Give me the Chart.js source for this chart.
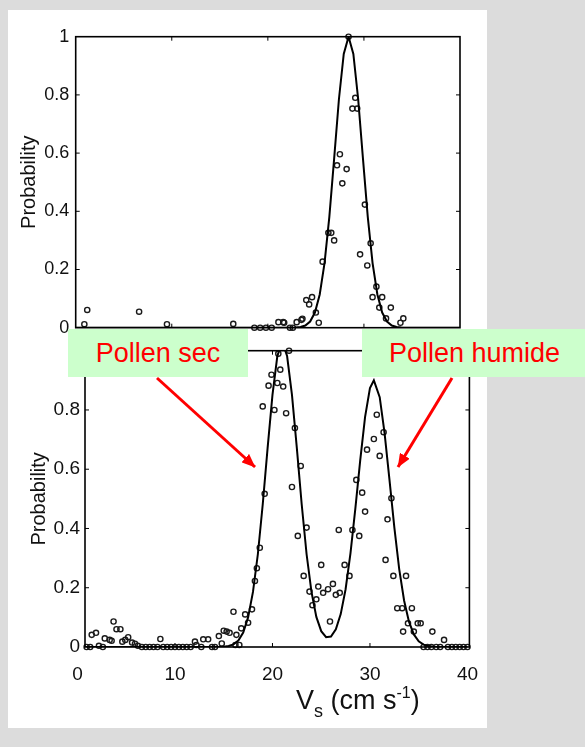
<!DOCTYPE html>
<html>
<head>
<meta charset="utf-8">
<script src="https://cdn.jsdelivr.net/npm/chart.js@4.4.1/dist/chart.umd.min.js"></script>
<style>
  body { margin: 0; background: #dcdcdc; }
  #page { position: relative; width: 585px; height: 747px; overflow: hidden; font-family: 'Liberation Sans', Arial, sans-serif; }
  #panel { position: absolute; left: 8px; top: 10px; width: 479px; height: 718px; background: #fff; }
  canvas { position: absolute; left: 0; top: 0; }
  .tag { position: absolute; background: #ccffcc; color: #ff0000; font-size: 27px; line-height: 48px; height: 48px; white-space: nowrap; }
  #xTitle { position: absolute; left: 296px; top: 685px; font-size: 27px; line-height: 30px; color: #111; white-space: nowrap; }
  #xTitle .sub { font-size: 18px; position: relative; top: 8px; }
  #xTitle .sup { font-size: 16px; position: relative; top: -11px; }
</style>
</head>
<body>
<div id="page">
  <div id="panel"></div>
  <canvas id="topChart" width="585" height="747"></canvas>
  <canvas id="bottomChart" width="585" height="747"></canvas>
  <div id="xTitle">V<span class="sub">s</span> (cm s<span class="sup">-1</span>)</div>
  <div class="tag" style="left:68px; top:329px; width:180px; text-align:center;">Pollen sec</div>
  <div class="tag" style="left:362px; top:329px; width:235px; padding-left:27px;">Pollen humide</div>
  <svg width="585" height="747" style="position:absolute;left:0;top:0">
    <defs>
      <marker id="ah" markerWidth="4.6" markerHeight="3.8" refX="4.4" refY="1.9" orient="auto" markerUnits="strokeWidth">
        <path d="M0,0 L4.6,1.9 L0,3.8 z" fill="#ff0000"/>
      </marker>
    </defs>
    <line x1="157" y1="378" x2="255" y2="467" stroke="#ff0000" stroke-width="3" marker-end="url(#ah)"/>
    <line x1="452" y1="378" x2="398" y2="467" stroke="#ff0000" stroke-width="3" marker-end="url(#ah)"/>
  </svg>
</div>
<script>
// x/y tick values shared by both panels
var xTicks = [0, 10, 20, 30, 40];
var yTicks = [0, 0.2, 0.4, 0.6, 0.8, 1];

// upper panel : measured points
var topDotX = [0.9, 1.2, 6.6, 9.5, 16.4, 18.6, 19.2, 19.8, 20.4, 21.1, 21.6, 21.7, 22.3, 22.6, 23.0, 23.5, 23.6,
  24.0, 24.3, 24.6, 25.0, 25.3, 25.7, 26.3, 26.6, 26.9, 27.2, 27.5, 27.75, 28.2, 28.4, 28.8, 29.1, 29.3,
  29.6, 30.1, 30.35, 30.7, 30.9, 31.3, 31.6, 31.9, 32.3, 32.8, 33.8, 34.1];
var topDotY = [0.012, 0.061, 0.055, 0.012, 0.013, 0.0, 0.0, 0.0, 0.0, 0.019, 0.019, 0.017, 0.0, 0.0, 0.019, 0.027, 0.031,
  0.095, 0.08, 0.105, 0.052, 0.017, 0.227, 0.326, 0.326, 0.30, 0.558, 0.596, 0.496, 0.545, 1.0, 0.753, 0.79, 0.753,
  0.252, 0.423, 0.214, 0.29, 0.105, 0.141, 0.069, 0.105, 0.032, 0.069, 0.017, 0.032];

// upper panel : fitted curve
var topCurveX = [0, 22.4, 22.9, 23.4, 23.9, 24.4, 24.9, 25.4, 25.9, 26.4, 26.9, 27.4, 27.9, 28.4,
  28.9, 29.4, 29.9, 30.4, 30.9, 31.4, 31.9, 32.4, 32.9, 33.4, 33.9, 34.4, 40];
var topCurveY = [0, 0, 0.0007, 0.0024, 0.0076, 0.021, 0.052, 0.114, 0.222, 0.381, 0.581, 0.786, 0.941, 1.0,
  0.941, 0.786, 0.581, 0.381, 0.222, 0.114, 0.052, 0.021, 0.0076, 0.0024, 0.0007, 0, 0];

// lower panel : measured points
var botDotX = [0.94, 1.3, 1.46, 1.9, 2.2, 2.6, 2.8, 3.3, 3.5, 3.7, 4.0, 4.4, 4.6, 4.9, 5.2, 5.6, 5.9, 6.2,
  6.6, 7.0, 7.4, 7.8, 8.2, 8.5, 8.8, 9.2, 9.6, 10.0, 10.4, 10.8, 11.2, 11.6,
  12.05, 12.2, 12.7, 12.9, 13.4, 13.8, 14.1, 14.5, 14.8, 15.0, 15.3, 15.6, 16.0, 16.2, 16.3, 16.6, 16.8,
  17.2, 17.5, 17.9, 18.2, 18.4, 18.7, 19.2, 19.0, 19.6, 19.9, 20.2, 20.5, 20.6, 20.8, 21.1, 21.4, 21.7,
  22.0, 22.3, 22.6, 22.9, 23.2, 23.5, 23.8, 24.1, 24.5, 24.7, 25.0, 25.2, 25.7, 25.9, 26.2, 26.5, 26.8,
  26.9, 27.4, 27.9, 28.2, 28.6, 28.9, 29.2, 29.5, 29.7, 30.4, 30.7, 31.0, 31.4, 31.6, 31.8, 32.2, 32.4,
  32.8, 33.3, 33.4, 33.7, 33.9, 34.3, 34.5, 34.9, 35.2, 36.4, 37.6,
  35.5, 35.9, 36.3, 36.8, 37.2, 38.0, 38.4, 38.8, 39.2, 39.6, 40.0];
var botDotY = [0, 0, 0.041, 0.048, 0.004, 0, 0.029, 0.024, 0.021, 0.086, 0.06, 0.06, 0.018, 0.024, 0.033, 0.015, 0.011, 0.004,
  0, 0, 0, 0, 0, 0.027, 0, 0, 0, 0, 0, 0, 0, 0,
  0.018, 0.007, 0, 0.026, 0.026, 0, 0, 0.037, 0.012, 0.055, 0.052, 0.048, 0.119, 0.007, 0.041, 0.007, 0.063,
  0.11, 0.082, 0.127, 0.223, 0.266, 0.335, 0.517, 0.812, 0.882, 0.919, 0.80, 0.891, 0.99, 0.936, 0.879, 0.789, 1.0,
  0.54, 0.739, 0.375, 0.611, 0.24, 0.403, 0.187, 0.141, 0.161, 0.204, 0.277, 0.183, 0.195, 0.086, 0.213, 0.176, 0.395,
  0.183, 0.277, 0.24, 0.395, 0.564, 0.375, 0.521, 0.457, 0.666, 0.702, 0.784, 0.645, 0.725, 0.294, 0.431, 0.502, 0.24,
  0.131, 0.131, 0.052, 0.24, 0.08, 0.131, 0.052, 0.08, 0.08, 0.052, 0.024,
  0, 0, 0, 0, 0, 0, 0, 0, 0, 0, 0];

// lower panel : fitted curve (two peaks, dry and wet pollen)
var botCurveX = [0, 14, 15, 15.5, 16, 16.5, 17, 17.5, 18, 18.5, 19, 19.5, 20, 20.5, 21, 21.5, 22, 22.5, 23, 23.5,
  24, 24.5, 25, 25.5, 26, 26.5, 27, 27.5, 28, 28.5, 29, 29.5, 30, 30.4, 31, 31.5, 32, 32.5, 33, 33.5,
  34, 34.5, 35, 35.5, 36, 36.5, 37, 40];
var botCurveY = [0, 0, 0.001, 0.0032, 0.0088, 0.0218, 0.0489, 0.0999, 0.186, 0.313, 0.481, 0.671, 0.851, 0.982, 1.03, 0.982, 0.851, 0.671, 0.481, 0.313,
  0.186, 0.1015, 0.0534, 0.0332, 0.0354, 0.060, 0.111, 0.195, 0.316, 0.467, 0.630, 0.777, 0.874, 0.9, 0.843, 0.722, 0.565, 0.404, 0.263, 0.157,
  0.0853, 0.0424, 0.0192, 0.008, 0.003, 0.001, 0, 0];

var fontFamily = "'Liberation Sans', Arial, sans-serif";
var ink = '#111';

function pairs(xs, ys){
	var out = [];
	for (var i=0; i<xs.length; i++){
		out.push({x: xs[i], y: ys[i]});
	}
	return out;
}

function yLabel(v){
	return String(Math.round(v*10)/10);
}

// box round the plot and inward tick marks, like the matlab figure
var framePlugin = {
	id: 'frame',
	afterDraw: function(chart){
		var ctx = chart.ctx, a = chart.chartArea;
		var sx = chart.scales.x, sy = chart.scales.y;
		ctx.save();
		ctx.strokeStyle = '#000';
		ctx.lineWidth = 1.6;
		ctx.strokeRect(a.left, a.top, a.right - a.left, a.bottom - a.top);
		ctx.lineWidth = 1;
		ctx.beginPath();
		for (var i=0; i<xTicks.length; i++){
			var px = sx.getPixelForValue(xTicks[i]);
			if (px < a.left + 5 || px > a.right - 5) continue;
			ctx.moveTo(px, a.bottom); ctx.lineTo(px, a.bottom - 4);
			ctx.moveTo(px, a.top); ctx.lineTo(px, a.top + 4);
		}
		for (var j=0; j<yTicks.length; j++){
			var py = sy.getPixelForValue(yTicks[j]);
			if (py < a.top + 3 || py > a.bottom - 3) continue;
			ctx.moveTo(a.left, py); ctx.lineTo(a.left + 4, py);
			ctx.moveTo(a.right, py); ctx.lineTo(a.right - 4, py);
		}
		ctx.stroke();
		ctx.restore();
	}
};

function makeChart(id, dots, curve, opts){
	return new Chart(document.getElementById(id), {
		type: 'scatter',
		data: {
			datasets: [{
				type: 'line',
				data: curve,
				borderColor: '#000',
				borderWidth: 2,
				pointRadius: 0,
				tension: 0,
				fill: false
			}, {
				data: dots,
				pointRadius: 2.6,
				pointStyle: 'circle',
				borderWidth: 1.4,
				borderColor: '#1a1a1a',
				backgroundColor: 'rgba(0,0,0,0)',
				clip: false
			}]
		},
		options: {
			responsive: false,
			animation: false,
			layout: {padding: opts.padding},
			plugins: {legend: {display: false}, tooltip: {enabled: false}},
			scales: {
				x: {
					type: 'linear',
					min: opts.xMin,
					max: opts.xMax,
					grid: {display: false, drawTicks: false},
					border: {display: false},
					afterBuildTicks: function(s){ s.ticks = xTicks.map(function(v){ return {value: v}; }); },
					ticks: {
						display: opts.xLabels,
						autoSkip: false,
						maxRotation: 0,
						padding: 16.6,
						color: ink,
						font: {family: fontFamily, size: 19},
						callback: function(v){ return String(v); }
					},
					afterFit: function(s){ s.height = opts.xHeight; }
				},
				y: {
					min: 0,
					max: 1,
					grid: {display: false, drawTicks: false},
					border: {display: false},
					afterBuildTicks: function(s){ s.ticks = yTicks.map(function(v){ return {value: v}; }); },
					ticks: {
						padding: opts.yPad,
						color: ink,
						font: {family: fontFamily, size: opts.tickSize},
						callback: yLabel
					},
					title: {
						display: true,
						text: 'Probability',
						color: ink,
						font: {family: fontFamily, size: 20},
						padding: {top: 7.6, bottom: 0}
					},
					afterFit: function(s){ s.width = opts.yWidth; }
				}
			}
		},
		plugins: [framePlugin]
	});
}

makeChart('topChart', pairs(topDotX, topDotY), pairs(topCurveX, topCurveY), {
	padding: {left: 10, top: 36.7, right: 125, bottom: 419.3},
	xMin: 0, xMax: 40, xLabels: false, xHeight: 0,
	yWidth: 65.7, yPad: 6.5, tickSize: 18
});

makeChart('bottomChart', pairs(botDotX, botDotY), pairs(botCurveX, botCurveY), {
	padding: {left: 20, top: 350.7, right: 115.6, bottom: 0},
	xMin: 0.77, xMax: 40.2, xLabels: true, xHeight: 100,
	yWidth: 65, yPad: 5, tickSize: 19
});
</script>
</body>
</html>
